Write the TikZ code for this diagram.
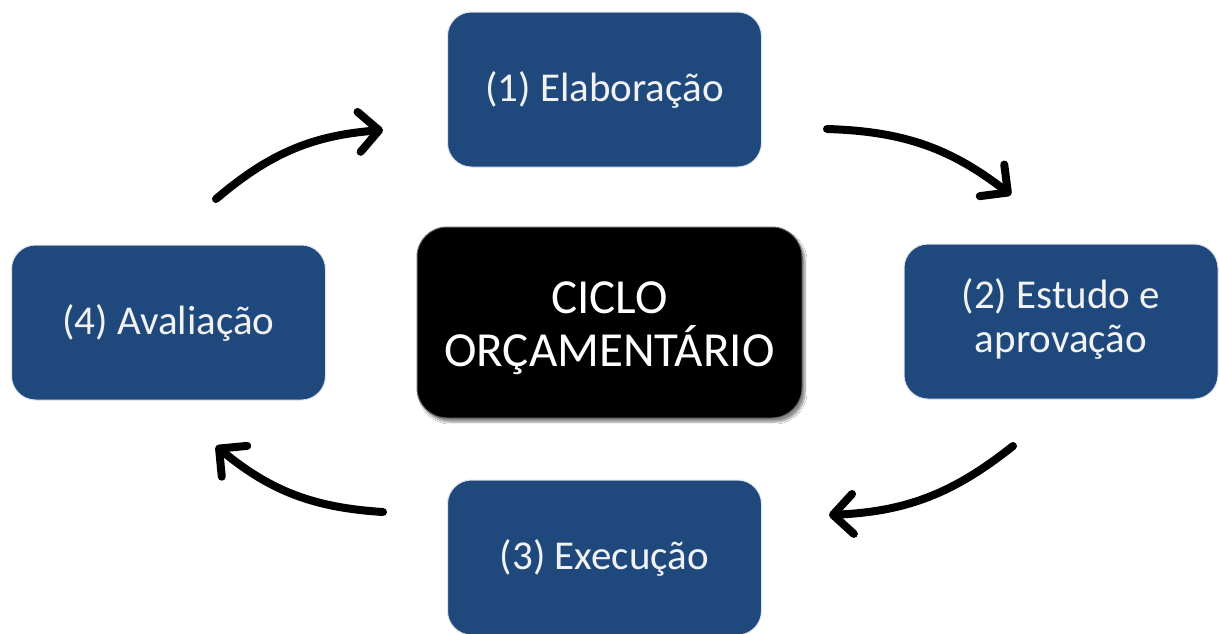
\documentclass[tikz,border=0pt]{standalone}
\usepackage{fontspec}
\setmainfont{Carlito}
\usetikzlibrary{arrows.meta,shadows.blur}
\definecolor{boxblue}{RGB}{31,73,125}
\definecolor{txtwhite}{RGB}{242,242,242}
\tikzset{
  stagebox/.style={draw=white!85!boxblue, line width=1pt, fill=boxblue, rounded corners=24pt,
    minimum width=314pt, minimum height=155pt, text=txtwhite, align=center,
    font=\fontsize{41}{44}\selectfont, inner sep=0pt},
  centerbox/.style={draw=black!60, line width=1pt, fill=black, rounded corners=30pt,
    minimum width=385pt, minimum height=191pt, inner sep=0pt,
    blur shadow={shadow xshift=3pt, shadow yshift=-4pt, shadow blur steps=8, shadow opacity=45}},
  centertext/.style={text=white, align=center, font=\fontsize{49}{53}\selectfont, inner sep=0pt},
  cyclearrow/.style={line width=8pt, line cap=round,
    -{Straight Barb[length=20pt,width=40pt,line cap=round,line join=round]}},
}
\begin{document}
\begin{tikzpicture}[x=1pt,y=-1pt]
\useasboundingbox (0,0) rectangle (1219,633);
\clip (0,0) rectangle (1219,633);
\fill[white] (0,0) rectangle (1219,633);
\node[stagebox] (elab) at (604.5,89.5) {(1) Elaboração};
\node[stagebox] (estudo) at (1061,321.5) {};
\node[text=txtwhite, align=center, font=\fontsize{41}{44}\selectfont, inner sep=0pt] (estudotext) at ([yshift=3pt]estudo.center) {(2) Estudo e\\aprovação};
\node[stagebox] (exec) at (604.5,557.5) {(3) Execução};
\node[stagebox] (aval) at (168.5,322.5) {(4) Avaliação};
\node[centerbox] (ciclo) at (609.5,322.5) {};
\node[centertext] (ciclotext) at ([yshift=-6pt]ciclo.center) {CICLO\\ORÇAMENTÁRIO};
\coordinate (a1s) at (216,199);
\coordinate (a1e) at (383,130);
\coordinate (a2s) at (827,129);
\coordinate (a2e) at (1011,195);
\coordinate (a3s) at (1013,446);
\coordinate (a3e) at (829,515);
\coordinate (a4s) at (383,512);
\coordinate (a4e) at (216,446);
\draw[cyclearrow] (a1s) to[bend left=18] (a1e);
\draw[cyclearrow] (a2s) to[bend left=18] (a2e);
\draw[cyclearrow] (a3s) to[bend left=18] (a3e);
\draw[cyclearrow] (a4s) to[bend left=18] (a4e);
\end{tikzpicture}
\end{document}
